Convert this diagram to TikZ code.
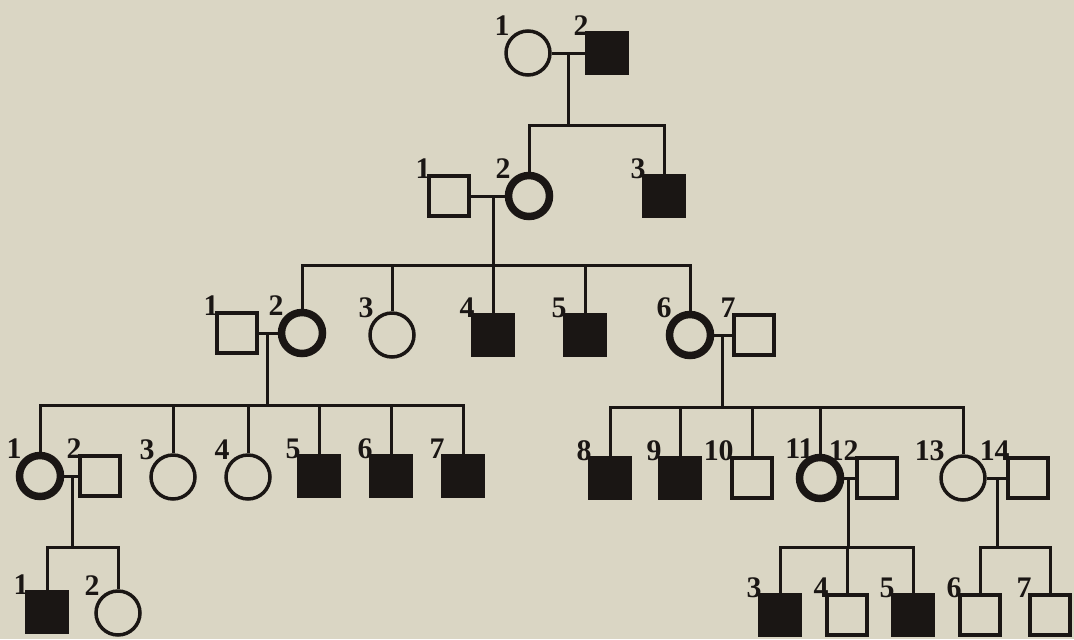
\documentclass[tikz,border=0pt]{standalone}
\usepackage{fontspec}
\newfontfamily\numfont{Liberation Serif}
\usepackage{xcolor}
\definecolor{paper}{RGB}{218,214,196}
\definecolor{ink}{RGB}{26,22,20}
\usepackage{tikz}
\usetikzlibrary{positioning, calc}

\begin{document}
\begin{tikzpicture}[
  x=0.02cm, y=-0.02cm,
  male/.style={draw=ink, rectangle, minimum size=0.8cm, inner sep=0pt, line width=0.065cm},
  female/.style={draw=ink, circle, minimum size=0.88cm, inner sep=0pt, line width=0.07cm},
  affected/.style={fill=ink},
  carrier/.style={line width=0.15cm, minimum size=0.82cm},
  line/.style={draw=ink, line width=0.06cm},
  num/.style={font=\numfont\fontsize{17}{17}\selectfont\bfseries, text=ink, inner sep=0pt, anchor=east},
]
% Page
\fill[paper] (0,0) rectangle (1074,639);

% Generation I
\node[female] (I1) at (528,53) {};
\node[male, affected] (I2) at (607,53) {};

% Generation II
\node[male] (II1) at (449,196) {};
\node[female, carrier] (II2) at (529,196) {};
\node[male, affected] (II3) at (664,196) {};

% Generation III
\node[male] (III1) at (237,333) {};
\node[female, carrier] (III2) at (302,333) {};
\node[female] (III3) at (392,335) {};
\node[male, affected] (III4) at (493,335) {};
\node[male, affected] (III5) at (585,335) {};
\node[female, carrier] (III6) at (690,335) {};
\node[male] (III7) at (754,335) {};

% Generation IV
\node[female, carrier] (IV1) at (40,476) {};
\node[male] (IV2) at (100,476) {};
\node[female] (IV3) at (173,477) {};
\node[female] (IV4) at (248,477) {};
\node[male, affected] (IV5) at (319,476) {};
\node[male, affected] (IV6) at (391,476) {};
\node[male, affected] (IV7) at (463,476) {};
\node[male, affected] (IV8) at (610,478) {};
\node[male, affected] (IV9) at (680,478) {};
\node[male] (IV10) at (752,478) {};
\node[female, carrier] (IV11) at (820,478) {};
\node[male] (IV12) at (877,478) {};
\node[female] (IV13) at (963,478) {};
\node[male] (IV14) at (1028,478) {};

% Generation V
\node[male, affected] (V1) at (47,612) {};
\node[female] (V2) at (118,613) {};
\node[male, affected] (V3) at (780,615) {};
\node[male] (V4) at (847,615) {};
\node[male, affected] (V5) at (913,615) {};
\node[male] (V6) at (980,615) {};
\node[male] (V7) at (1050,615) {};

% I -> II
\coordinate (mI) at (568,53);
\coordinate (sI) at (568,125);
\draw[line] (I1) -- (I2);
\draw[line] (mI) -- (sI);
\draw[line] (II2.north) |- (sI) -| (II3.north);

% II -> III
\coordinate (mII) at (493,196);
\coordinate (sII) at (493,265);
\draw[line] (II1) -- (II2);
\draw[line] (mII) -- (sII);
\draw[line] (III2.north) |- (sII) -| (III6.north);
\foreach \c in {III3, III4, III5}
  \draw[line] (\c.north) -- (\c.north |- sII);

% III -> IV, left family
\coordinate (mIIIa) at (267,333);
\coordinate (sIIIa) at (267,405);
\draw[line] (III1) -- (III2);
\draw[line] (mIIIa) -- (sIIIa);
\draw[line] (IV1.north) |- (sIIIa) -| (IV7.north);
\foreach \c in {IV3, IV4, IV5, IV6}
  \draw[line] (\c.north) -- (\c.north |- sIIIa);

% III -> IV, right family
\coordinate (mIIIb) at (722,335);
\coordinate (sIIIb) at (722,407);
\draw[line] (III6) -- (III7);
\draw[line] (mIIIb) -- (sIIIb);
\draw[line] (IV8.north) |- (sIIIb) -| (IV13.north);
\foreach \c in {IV9, IV10, IV11}
  \draw[line] (\c.north) -- (\c.north |- sIIIb);

% IV -> V
\coordinate (mIVa) at (72,476);
\coordinate (sIVa) at (72,547);
\draw[line] (IV1) -- (IV2);
\draw[line] (mIVa) -- (sIVa);
\draw[line] (V1.north) |- (sIVa) -| (V2.north);

\coordinate (mIVb) at (848,478);
\coordinate (sIVb) at (848,547);
\draw[line] (IV11) -- (IV12);
\draw[line] (mIVb) -- (sIVb);
\draw[line] (V3.north) |- (sIVb) -| (V5.north);
\draw[line] (V4.north) -- (V4.north |- sIVb);

\coordinate (mIVc) at (997,478);
\coordinate (sIVc) at (997,547);
\draw[line] (IV13) -- (IV14);
\draw[line] (mIVc) -- (sIVc);
\draw[line] (V6.north) |- (sIVc) -| (V7.north);

% Numbers
\foreach \n/\t in {I1/1, I2/2, II1/1, II2/2, II3/3,
    III1/1, III2/2, III3/3, III4/4, III5/5, III6/6, III7/7,
    IV1/1, IV2/2, IV3/3, IV4/4, IV5/5, IV6/6, IV7/7, IV8/8, IV9/9,
    IV10/10, IV12/12, IV13/13, IV14/14,
    V1/1, V2/2, V3/3, V4/4, V5/5, V6/6, V7/7}
  \node[num] (n\n) at ([shift={(-18,-27)}]\n.center) {\t};
\node[num] (nIV11) at ([shift={(-6,-29)}]IV11.center) {11};
\end{tikzpicture}
\end{document}
